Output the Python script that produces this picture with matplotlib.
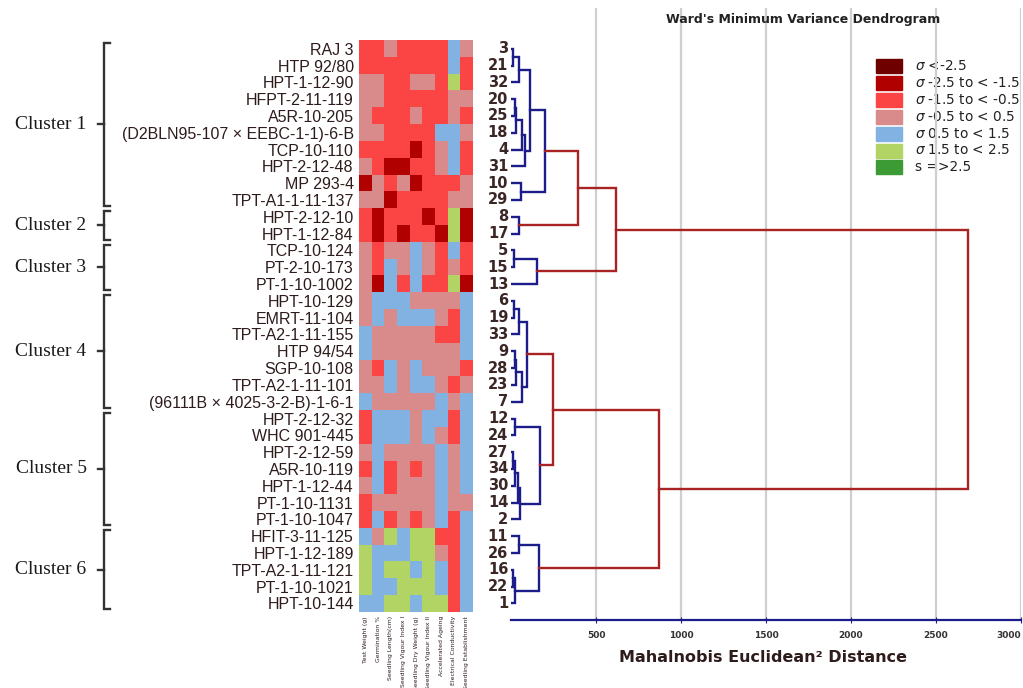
import matplotlib
matplotlib.use("Agg")
import matplotlib.pyplot as plt
from matplotlib.colors import ListedColormap
from matplotlib.patches import Rectangle

# genotype names, top to bottom
genotypes = ["RAJ 3", "HTP 92/80", "HPT-1-12-90", "HFPT-2-11-119", "A5R-10-205",
             "(D2BLN95-107 × EEBC-1-1)-6-B", "TCP-10-110", "HPT-2-12-48", "MP 293-4",
             "TPT-A1-1-11-137", "HPT-2-12-10", "HPT-1-12-84", "TCP-10-124", "PT-2-10-173",
             "PT-1-10-1002", "HPT-10-129", "EMRT-11-104", "TPT-A2-1-11-155", "HTP 94/54",
             "SGP-10-108", "TPT-A2-1-11-101", "(96111B × 4025-3-2-B)-1-6-1", "HPT-2-12-32",
             "WHC 901-445", "HPT-2-12-59", "A5R-10-119", "HPT-1-12-44", "PT-1-10-1131",
             "PT-1-10-1047", "HFIT-3-11-125", "HPT-1-12-189", "TPT-A2-1-11-121",
             "PT-1-10-1021", "HPT-10-144"]
leaf_ids = [3, 21, 32, 20, 25, 18, 4, 31, 10, 29, 8, 17, 5, 15, 13, 6, 19, 33, 9, 28,
            23, 7, 12, 24, 27, 34, 30, 14, 2, 11, 26, 16, 22, 1]

traits = ["Test Weight (g)", "Germination %", "Seedling Length(cm)", "Seedling Vigour Index I",
          "Seedling Dry Weight (g)", "Seedling Vigour Index II", "Accelerated Ageing",
          "Electrical Conductivity", "Seedling Establishment"]

# sigma class of every cell (0: <-2.5 ... 6: =>2.5)
scores = [
    [2, 2, 3, 2, 2, 2, 2, 4, 3],
    [2, 2, 2, 2, 2, 2, 2, 4, 2],
    [3, 3, 2, 2, 3, 3, 2, 5, 2],
    [3, 3, 2, 2, 2, 2, 2, 3, 3],
    [3, 2, 2, 2, 3, 2, 2, 3, 2],
    [3, 3, 2, 2, 2, 2, 4, 4, 3],
    [2, 2, 2, 2, 1, 2, 3, 4, 2],
    [3, 2, 1, 1, 2, 2, 3, 4, 2],
    [1, 3, 2, 3, 1, 2, 2, 2, 3],
    [3, 3, 1, 2, 2, 2, 2, 3, 3],
    [2, 1, 2, 2, 2, 1, 2, 5, 1],
    [2, 1, 2, 1, 2, 2, 1, 5, 1],
    [3, 2, 3, 3, 4, 3, 2, 4, 2],
    [3, 2, 4, 3, 4, 3, 2, 3, 2],
    [3, 1, 4, 2, 4, 2, 2, 5, 1],
    [3, 4, 4, 4, 3, 3, 3, 3, 4],
    [3, 4, 3, 4, 4, 4, 3, 2, 4],
    [4, 3, 3, 3, 3, 3, 2, 2, 4],
    [4, 3, 3, 3, 3, 3, 3, 3, 4],
    [3, 2, 4, 3, 4, 3, 3, 3, 2],
    [3, 3, 4, 3, 4, 4, 3, 2, 3],
    [4, 3, 3, 3, 3, 3, 4, 3, 4],
    [2, 4, 4, 4, 3, 4, 4, 2, 4],
    [2, 4, 4, 4, 3, 4, 3, 2, 4],
    [3, 4, 3, 3, 3, 3, 4, 3, 4],
    [2, 4, 2, 3, 2, 3, 4, 3, 4],
    [3, 4, 2, 3, 3, 3, 4, 3, 4],
    [2, 3, 3, 3, 3, 3, 4, 3, 3],
    [2, 4, 2, 3, 2, 3, 4, 2, 4],
    [4, 3, 5, 4, 5, 5, 2, 2, 4],
    [5, 4, 4, 4, 5, 5, 3, 2, 4],
    [5, 4, 5, 5, 4, 5, 4, 2, 4],
    [5, 4, 4, 5, 5, 5, 4, 2, 4],
    [4, 4, 5, 5, 4, 5, 5, 2, 4],
]

class_labels = [r"$\sigma$ <-2.5", r"$\sigma$ -2.5 to < -1.5", r"$\sigma$ -1.5 to < -0.5",
                r"$\sigma$ -0.5 to < 0.5", r"$\sigma$ 0.5 to < 1.5", r"$\sigma$ 1.5 to < 2.5",
                "s =>2.5"]
class_colors = ["#6e0000", "#b00000", "#fb4545", "#d98a8a", "#82b2e2", "#b2d465", "#3d9b35"]

cluster_names = ["Cluster 1", "Cluster 2", "Cluster 3", "Cluster 4", "Cluster 5", "Cluster 6"]
cluster_sizes = [10, 2, 3, 7, 7, 5]

# ward linkage: (node, left, right, distance)
merges = [
    ("a1", 3, 21, 14), ("b1", "a1", 32, 47), ("c1", 20, 25, 22), ("d1", "c1", 18, 30),
    ("e1", "d1", 4, 62), ("f1", "e1", 31, 80), ("g1", "b1", "f1", 112), ("h1", 10, 29, 57),
    ("C1", "g1", "h1", 200), ("C2", 8, 17, 47), ("C12", "C1", "C2", 394),
    ("a3", 5, 15, 18), ("C3", "a3", 13, 151), ("C123", "C12", "C3", 618),
    ("a4", 6, 19, 18), ("b4", "a4", 33, 47), ("c4", 9, 28, 22), ("d4", "c4", 23, 30),
    ("e4", "d4", 7, 65), ("C4", "b4", "e4", 94),
    ("a5", 12, 24, 22), ("b5", 27, 34, 10), ("c5", "b5", 30, 25), ("d5", "c5", 14, 40),
    ("e5", "d5", 2, 55), ("C5", "a5", "e5", 170), ("C45", "C4", "C5", 247),
    ("a6", 11, 26, 47), ("b6", 16, 22, 12), ("c6", "b6", 1, 25), ("C6", "a6", "c6", 166),
    ("C456", "C45", "C6", 870), ("root", "C123", "C456", 2688),
]
color_cut = 220

W, H = 1023, 688
top, row_h = 40.3, 16.81
n = len(genotypes)


def px(x0, y0, x1, y1):
    return [x0 / W, 1 - y1 / H, (x1 - x0) / W, (y1 - y0) / H]


fig = plt.figure(figsize=(W / 100, H / 100), dpi=100)
txt = "#2e1c1c"

# heatmap
ax = fig.add_axes(px(359.3, top, 472.7, top + n * row_h))
cmap = ListedColormap(class_colors)
ax.imshow(scores, cmap=cmap, vmin=-0.5, vmax=6.5, aspect="auto", interpolation="nearest")
ax.set_yticks(range(n))
ax.set_yticklabels(genotypes, fontsize=11.5, color=txt, family="Liberation Sans")
ax.set_xticks(range(len(traits)))
ax.set_xticklabels(traits, rotation=90, fontsize=4.4, color=txt)
ax.tick_params(length=0, pad=4)
ax.tick_params(axis="x", pad=3)
for s in ax.spines.values():
    s.set_visible(False)

# overlay in pixel coordinates
ov = fig.add_axes([0, 0, 1, 1])
ov.set_xlim(0, W)
ov.set_ylim(H, 0)
ov.axis("off")
ov.patch.set_alpha(0)

start = 0
for name, size in zip(cluster_names, cluster_sizes):
    y0 = top + start * row_h + 2.5
    y1 = top + (start + size) * row_h - 2.5
    ym = (y0 + y1) / 2
    ov.plot([110, 104, 104, 110], [y0, y0, y1, y1], color="#333333", lw=1.7,
            solid_joinstyle="miter")
    ov.plot([98, 104], [ym, ym], color="#333333", lw=1.7)
    ov.text(51, ym, name, ha="center", va="center", fontsize=14,
            family="Liberation Serif", color="#1a1a1a")
    start += size

# legend
for i, (lab, col) in enumerate(zip(class_labels, class_colors)):
    yc = 66 + i * 16.9
    ov.add_patch(Rectangle((876, yc - 7), 26, 14, color=col))
    ov.text(915, yc, lab, va="center", ha="left", fontsize=9.8, color="#222222")

fig.text(803 / W, 1 - 20 / H, "Ward's Minimum Variance Dendrogram", ha="center",
         va="center", fontsize=9, weight="bold", color="#222222")
fig.text(763 / W, 1 - 658 / H, "Mahalnobis Euclidean² Distance", ha="center",
         va="center", fontsize=11.5, weight="bold", color=txt)

# dendrogram
ad = fig.add_axes(px(511, 8, 1021, 620))
ad.set_xlim(0, 3000)
ad.set_ylim((620 - top) / row_h, (8 - top) / row_h)
ad.patch.set_alpha(0)

pos = {}
for i, leaf in enumerate(leaf_ids):
    pos[leaf] = (0, i + 0.5)
    ad.annotate(str(leaf), xy=(0, i + 0.5), xytext=(-2, 0), textcoords="offset points",
                ha="right", va="center", fontsize=10.5, weight="bold", color="#3b2626",
                annotation_clip=False)

for node, left, right, h in merges:
    xl, yl = pos[left]
    xr, yr = pos[right]
    col = "#a82424" if h > color_cut else "#1c1c8a"
    ad.plot([xl, h, h, xr], [yl, yl, yr, yr], color=col, lw=1.7, zorder=3,
            solid_joinstyle="miter")
    pos[node] = (h, (yl + yr) / 2)

ad.set_xticks([500, 1000, 1500, 2000, 2500, 3000])
ad.set_yticks([])
ad.grid(axis="x", color="#cfcfcf", lw=1.6, zorder=0)
for k in ["top", "right", "left"]:
    ad.spines[k].set_visible(False)
ad.spines["bottom"].set_color("#1c1c8a")
ad.spines["bottom"].set_linewidth(1.6)
ad.tick_params(axis="x", direction="inout", length=4, color="#1c1c8a", labelsize=6.5,
               pad=6, labelcolor="#333333")
for t in ad.get_xticklabels():
    t.set_fontweight("bold")
ad.get_xticklabels()[-1].set_horizontalalignment("right")

fig.savefig("out.png", dpi=100)
